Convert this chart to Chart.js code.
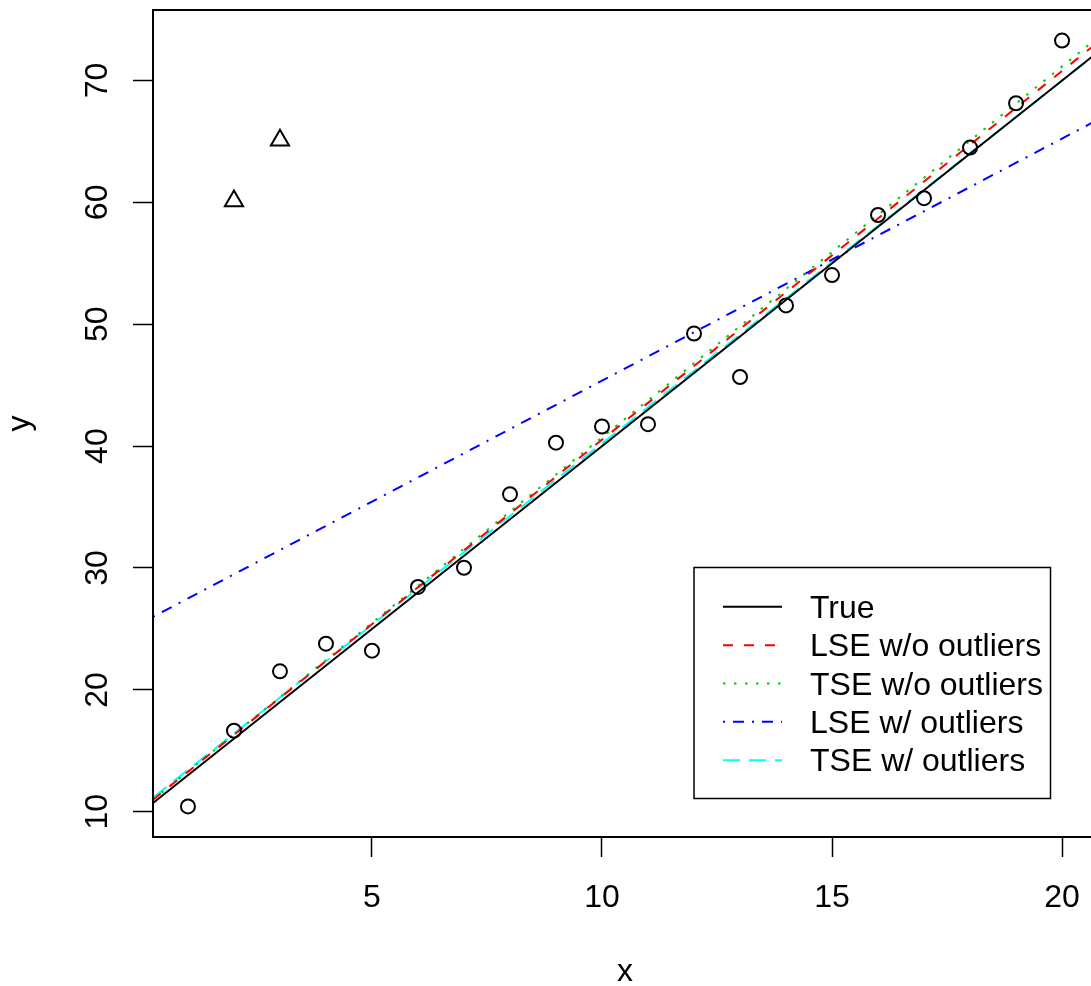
<!DOCTYPE html>
<html>
<head>
<meta charset="utf-8">
<script src="https://cdn.jsdelivr.net/npm/chart.js@4.4.1/dist/chart.umd.min.js"></script>
<style>
 body{margin:0;background:#fff;overflow:hidden;}
 #caja{width:1091px;height:986px;overflow:hidden;}
</style>
</head>
<body>
<div id="caja"><canvas id="miGrafico" width="1120" height="986"></canvas></div>
<script>
// puntos observados
var datosX = [1, 2, 3, 4, 5, 6, 7, 8, 9, 10, 11, 12, 13, 14, 15, 16, 17, 18, 19, 20];
var datosY = [10.44, 16.65, 21.52, 23.79, 23.22, 28.45, 30.02, 36.05, 40.28, 41.61, 41.80, 49.24, 45.67, 51.54, 54.03, 58.96, 60.34, 64.49, 68.13, 73.27];
// outliers (triangulos)
var outX = [2, 3];
var outY = [60.1, 65.1];

// limites de los ejes
var limX = [0.24, 20.76];
var limY = [7.93, 75.78];
var ticksX = [5, 10, 15, 20];
var ticksY = [10, 20, 30, 40, 50, 60, 70];

// rectas: valor en el borde izquierdo y derecho
var nombres = ['True', 'LSE w/o outliers', 'TSE w/o outliers', 'LSE w/ outliers', 'TSE w/ outliers'];
var inicioY = [10.72, 10.99, 11.00, 25.99, 11.17];
var finY = [72.28, 73.08, 73.46, 66.74, 72.24];
var colores = ['#000000', '#FF0000', '#00CD00', '#0000FF', '#00FFFF'];
var trazos = [[], [10, 11], [2.5, 8.5], [2, 8, 11, 8], [17, 9]];

var fuente = '"Liberation Sans", Arial, sans-serif';

var puntos = [];
for (var i = 0; i < datosX.length; i++) {
	puntos.push({x: datosX[i], y: datosY[i]});
}
var puntosOut = [];
for (var i = 0; i < outX.length; i++) {
	puntosOut.push({x: outX[i], y: outY[i]});
}

var datasets = [];
for (var i = 0; i < nombres.length; i++) {
	datasets.push({
		label: nombres[i],
		data: [{x: limX[0], y: inicioY[i]}, {x: limX[1], y: finY[i]}],
		showLine: true,
		borderColor: colores[i],
		borderWidth: 2,
		borderDash: trazos[i],
		pointRadius: 0,
		fill: false,
		order: 2
	});
}
datasets.push({
	label: 'datos',
	data: puntos,
	showLine: false,
	pointStyle: 'circle',
	pointRadius: 7,
	borderColor: '#000',
	borderWidth: 2,
	backgroundColor: 'rgba(0,0,0,0)',
	order: 1
});
datasets.push({
	label: 'outliers',
	data: puntosOut,
	showLine: false,
	pointStyle: 'triangle',
	pointRadius: 10.5,
	borderColor: '#000',
	borderWidth: 2,
	backgroundColor: 'rgba(0,0,0,0)',
	order: 1
});

// caja, etiquetas y leyenda al estilo R
var estiloR = {
	id: 'estiloR',
	afterDraw: function (chart) {
		var ctx = chart.ctx;
		var a = chart.chartArea;
		var sx = chart.scales.x;
		var sy = chart.scales.y;
		ctx.save();
		ctx.strokeStyle = '#000';
		ctx.lineWidth = 2;
		ctx.strokeRect(a.left, a.top, a.right - a.left, a.bottom - a.top);

		ctx.fillStyle = '#000';
		ctx.font = '32px ' + fuente;
		ctx.textBaseline = 'alphabetic';
		ctx.textAlign = 'center';
		for (var i = 0; i < ticksX.length; i++) {
			ctx.fillText(String(ticksX[i]), sx.getPixelForValue(ticksX[i]), 907);
		}
		for (var i = 0; i < ticksY.length; i++) {
			ctx.save();
			ctx.translate(107, sy.getPixelForValue(ticksY[i]));
			ctx.rotate(-Math.PI / 2);
			ctx.fillText(String(ticksY[i]), 0, 0);
			ctx.restore();
		}
		ctx.fillText('x', (a.left + a.right) / 2, 981);
		ctx.save();
		ctx.translate(29, (a.top + a.bottom) / 2);
		ctx.rotate(-Math.PI / 2);
		ctx.fillText('y', 0, 0);
		ctx.restore();

		// leyenda
		ctx.lineWidth = 1.5;
		ctx.strokeRect(694, 567.5, 356.5, 231);
		ctx.textAlign = 'left';
		for (var i = 0; i < nombres.length; i++) {
			var ds = chart.data.datasets[i];
			var yy = 606.8 + i * 38.35;
			ctx.strokeStyle = ds.borderColor;
			ctx.lineWidth = 2;
			ctx.setLineDash(ds.borderDash);
			ctx.beginPath();
			ctx.moveTo(723, yy);
			ctx.lineTo(782, yy);
			ctx.stroke();
			ctx.setLineDash([]);
			ctx.fillStyle = '#000';
			ctx.fillText(ds.label, 810, yy + 11);
		}
		ctx.restore();
	}
};

var ejeComun = {
	type: 'linear',
	grid: {display: true, drawOnChartArea: false, drawTicks: true, tickLength: 20, tickWidth: 1.5, tickColor: '#000'},
	border: {display: false},
	ticks: {display: false},
	title: {display: false}
};

var ctx = document.getElementById('miGrafico').getContext('2d');
var chart = new Chart(ctx, {
	type: 'scatter',
	data: {datasets: datasets},
	options: {
		responsive: false,
		animation: false,
		devicePixelRatio: 1,
		layout: {autoPadding: false, padding: {left: 133, top: 10, right: 23, bottom: 129}},
		plugins: {legend: {display: false}, tooltip: {enabled: false}},
		scales: {
			x: Object.assign({}, ejeComun, {
				position: 'bottom',
				min: limX[0], max: limX[1],
				afterBuildTicks: function (s) { s.ticks = ticksX.map(function (v) { return {value: v}; }); }
			}),
			y: Object.assign({}, ejeComun, {
				position: 'left',
				min: limY[0], max: limY[1],
				afterBuildTicks: function (s) { s.ticks = ticksY.map(function (v) { return {value: v}; }); }
			})
		}
	},
	plugins: [estiloR]
});
</script>
</body>
</html>
